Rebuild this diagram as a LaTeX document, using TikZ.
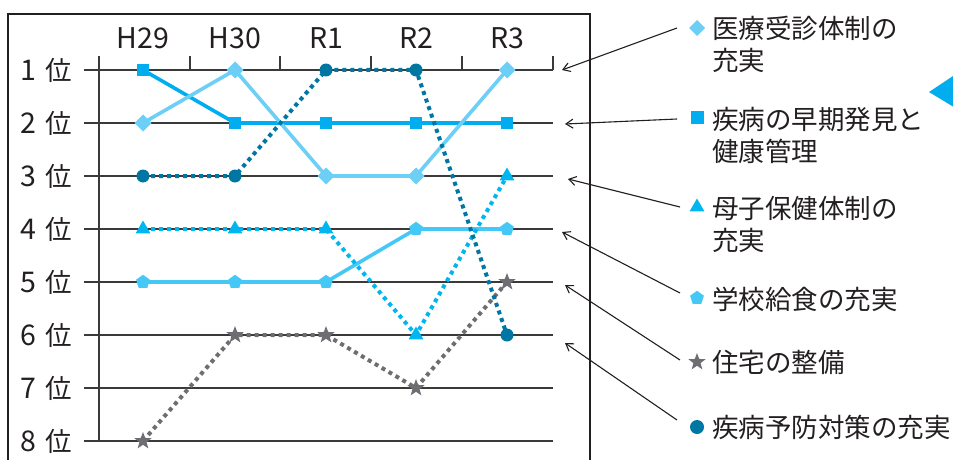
\documentclass[tikz,border=0pt]{standalone}
\usepackage{fontspec}
\setmainfont{Noto Sans CJK JP}
\usetikzlibrary{shapes.geometric,arrows.meta}
\definecolor{cDia}{HTML}{6DCFF6}
\definecolor{cSq}{HTML}{00AEEF}
\definecolor{cTri}{HTML}{00B6F0}
\definecolor{cPen}{HTML}{45C8F5}
\definecolor{cStar}{HTML}{6D6E71}
\definecolor{cCirc}{HTML}{0076A3}
\definecolor{cInk}{HTML}{231F20}
\definecolor{cGrid}{HTML}{3A3A3A}
\tikzset{
  txt/.style={inner sep=0pt, text=cInk, font=\fontsize{26.5}{32}\selectfont},
  lat/.style={inner sep=0pt, text=cInk, font=\fontsize{28.5}{32}\selectfont},
  grid line/.style={draw=cGrid, line width=1.3pt},
  frame line/.style={draw=cInk, line width=2.5pt},
  solidser/.style={line width=3.6pt, line join=round},
  dotser/.style={line width=4pt, dash pattern=on 4pt off 4pt},
  mk/.style={inner sep=0pt, outer sep=0pt, draw=none},
  mdia/.style={mk, diamond, minimum size=17pt, fill=cDia},
  msq/.style={mk, rectangle, minimum size=12.5pt, fill=cSq},
  mtri/.style={mk, regular polygon, regular polygon sides=3, minimum size=17pt, fill=cTri},
  mpen/.style={mk, regular polygon, regular polygon sides=5, minimum size=14.5pt, fill=cPen},
  mstar/.style={mk, star, star points=5, star point ratio=2.4, minimum size=18pt, fill=cStar},
  mcirc/.style={mk, circle, minimum size=13pt, fill=cCirc},
  conn/.style={draw=cInk, line width=1.1pt, -{Straight Barb[length=7pt,width=9pt,line width=1.1pt]}},
}
\begin{document}
\begin{tikzpicture}[x=1pt,y=-1pt]
\useasboundingbox (0,0) rectangle (953,460);
% frame
\draw[frame line] (8,14) rectangle (590,490);
% data coordinates
\foreach \i/\x in {1/143,2/235,3/326,4/416,5/507}{
  \foreach \r in {1,...,8}{
    \coordinate (c\i r\r) at (\x,{70+(\r-1)*53});
  }
}
% grid
\foreach \r in {1,...,8}{
  \coordinate (gl\r) at (84,{70+(\r-1)*53});
  \coordinate (gr\r) at (553,{70+(\r-1)*53});
  \draw[grid line] (gl\r) -- (gr\r);
  \node[txt, anchor=east] (ylab\r) at (72,{70+(\r-1)*53}) {{\fontsize{28.5}{32}\selectfont\r}\hspace{9pt}位};
}
\coordinate (axtop) at (99,56);
\coordinate (axbot) at (99,441);
\draw[grid line] (axtop) -- (axbot);
\foreach \x [count=\k] in {190,280,371,462,553}{
  \coordinate (tk\k a) at (\x,56);
  \coordinate (tk\k b) at (\x,70);
  \draw[grid line] (tk\k a) -- (tk\k b);
}
% column labels
\foreach \i/\x/\t in {1/143/H29,2/235/H30,3/326/R1,4/416/R2,5/507/R3}{
  \node[lat] (xlab\i) at (\x,38) {\t};
}
% series lines
\draw[dotser, draw=cStar] (c1r8) -- (c2r6) -- (c3r6) -- (c4r7) -- (c5r5);
\draw[solidser, draw=cPen] (c1r5) -- (c2r5) -- (c3r5) -- (c4r4) -- (c5r4);
\draw[dotser, draw=cTri] (c1r4) -- (c2r4) -- (c3r4) -- (c4r6) -- (c5r3);
\draw[solidser, draw=cSq] (c1r1) -- (c2r2) -- (c3r2) -- (c4r2) -- (c5r2);
\draw[solidser, draw=cDia] (c1r2) -- (c2r1) -- (c3r3) -- (c4r3) -- (c5r1);
\draw[dotser, draw=cCirc] (c1r3) -- (c2r3) -- (c3r1) -- (c4r1) -- (c5r6);
% markers
\foreach \i/\r in {1/8,2/6,3/6,4/7,5/5}{\node[mstar] (st\i) at (c\i r\r) {};}
\foreach \i/\r in {1/5,2/5,3/5,4/4,5/4}{\node[mpen] (pe\i) at (c\i r\r) {};}
\foreach \i/\r in {1/4,2/4,3/4,4/6,5/3}{\node[mtri] (tr\i) at (c\i r\r) {};}
\foreach \i/\r in {1/1,2/2,3/2,4/2,5/2}{\node[msq] (sq\i) at (c\i r\r) {};}
\foreach \i/\r in {1/2,2/1,3/3,4/3,5/1}{\node[mdia] (di\i) at (c\i r\r) {};}
\foreach \i/\r in {1/3,2/3,3/1,4/1,5/6}{\node[mcirc] (ci\i) at (c\i r\r) {};}
% legend markers
\node[mdia, minimum size=16pt] (ld) at (697,28) {};
\node[msq, minimum size=13pt] (ls) at (697,117) {};
\node[mtri, minimum size=17pt] (lt) at (697,207) {};
\node[mpen] (lp) at (697,298) {};
\node[mstar] (lst) at (697,362) {};
\node[mcirc, minimum size=14pt] (lc) at (697,427) {};
% legend texts
\node[txt, anchor=west, align=left] (tx1) at (712,44) {医療受診体制の\\充実};
\node[txt, anchor=west, align=left] (tx2) at (712,135) {疾病の早期発見と\\健康管理};
\node[txt, anchor=west, align=left] (tx3) at (712,224) {母子保健体制の\\充実};
\node[txt, anchor=west] (tx4) at (712,299) {学校給食の充実};
\node[txt, anchor=west] (tx5) at (712,362) {住宅の整備};
\node[txt, anchor=west] (tx6) at (712,427) {疾病予防対策の充実};
% connectors
\coordinate (s1) at (677,28);  \coordinate (e1) at (562,70);
\coordinate (s2) at (677,119); \coordinate (e2) at (565,124);
\coordinate (s3) at (680,207); \coordinate (e3) at (568,179);
\coordinate (s4) at (680,293); \coordinate (e4) at (562,232);
\coordinate (s5) at (680,360); \coordinate (e5) at (565,285);
\coordinate (s6) at (677,420); \coordinate (e6) at (565,343);
\foreach \k in {1,...,6}{\draw[conn] (s\k) -- (e\k);}
% partial triangle at right edge
\coordinate (pa) at (929,92);
\coordinate (pb) at (962,70);
\coordinate (pc) at (962,112);
\fill[cSq] (pa) -- (pb) -- (pc) -- cycle;
\end{tikzpicture}
\end{document}
